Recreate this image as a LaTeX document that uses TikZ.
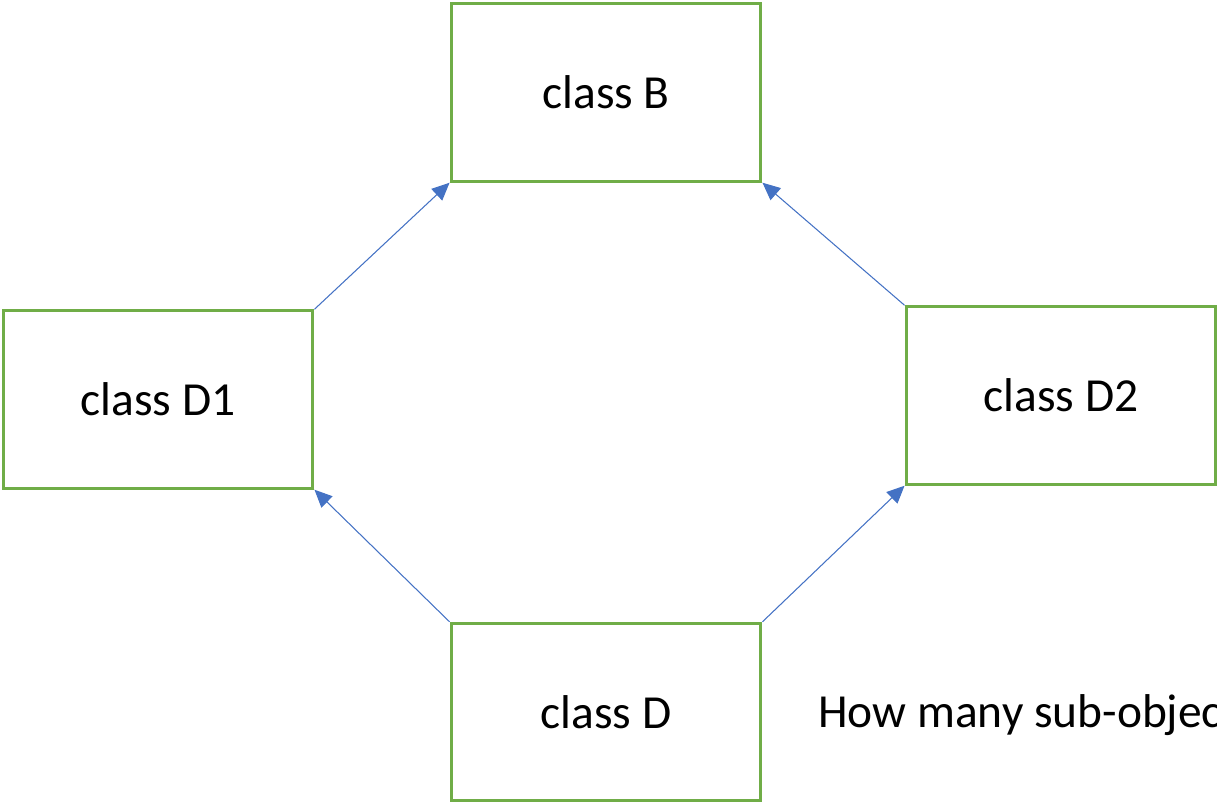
\documentclass[tikz,border=0pt]{standalone}
\usepackage{fontspec}
\setmainfont{Carlito}
\usepackage{xcolor}
\usetikzlibrary{arrows.meta}
\definecolor{boxgreen}{HTML}{70AD47}
\definecolor{arrowblue}{HTML}{4472C4}
\tikzset{
  clsbox/.style={draw=boxgreen, line width=1.7pt, fill=white, inner sep=0pt,
    minimum width=6.2cm, minimum height=3.55cm, font=\fontsize{27}{32}\selectfont},
  inharrow/.style={draw=arrowblue, line width=0.6pt,
    -{Triangle[length=10pt,width=9pt,fill=arrowblue]}},
  asknote/.style={anchor=west, inner sep=0pt, font=\fontsize{27}{32}\selectfont},
}
\begin{document}
\begin{tikzpicture}[x=0.02cm,y=-0.02cm]
\useasboundingbox (0,0) rectangle (1217,804);
\clip (0,0) rectangle (1217,804);
\node[clsbox] (b) at (606,92.5) {class B};
\node[clsbox] (d1) at (158,399.5) {class D1};
\node[clsbox] (d2) at (1061,395.5) {class D2};
\node[clsbox] (d) at (606,712) {class D};
\draw[inharrow] (d1.north east) -- (b.south west);
\draw[inharrow] (d2.north west) -- (b.south east);
\draw[inharrow] (d.north west) -- (d1.south east);
\draw[inharrow] (d.north east) -- (d2.south west);
\node[asknote] (q) at (818,715) {How many sub-objec};
\end{tikzpicture}
\end{document}
